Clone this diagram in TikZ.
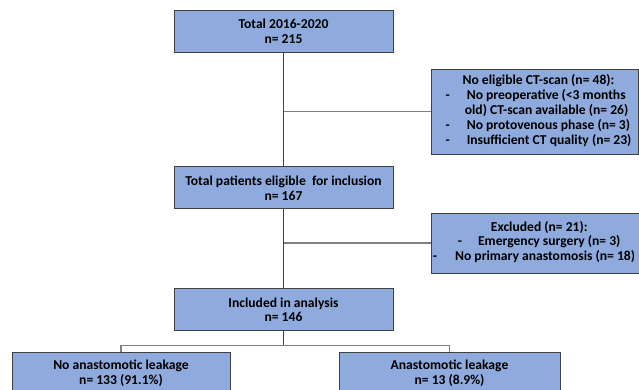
\documentclass[tikz,border=0pt]{standalone}
\usepackage{fontspec}
\setmainfont{Carlito}
\usetikzlibrary{positioning}
\definecolor{boxblue}{RGB}{143,170,220}
\definecolor{boxline}{RGB}{64,64,64}
\definecolor{linkdark}{RGB}{64,64,64}
\definecolor{linkgray}{RGB}{128,128,128}

\begin{document}
\begin{tikzpicture}[x=1pt, y=-1pt,
    flowbox/.style = {rectangle, draw=boxline, fill=boxblue, line width=0.9pt,
      font=\fontsize{13.6}{14.8}\selectfont\bfseries, align=center, inner sep=0pt},
    mainbox/.style = {flowbox, minimum width=219pt, minimum height=42pt},
    mainline/.style = {draw=linkdark, line width=1.1pt},
    sideline/.style = {draw=linkgray, line width=1.3pt}]
     \clip (0,0) rectangle (639,390);

     \node[mainbox] (total) at (283.5,31) {Total 2016-2020\\n= 215};
     \node[mainbox] (eligible) [below=114pt of total] {Total patients eligible \ for inclusion\\n= 167};
     \node[mainbox] (included) [below=79pt of eligible] {Included in analysis\\n= 146};

     \node[flowbox, minimum width=207pt, minimum height=85pt] (noct) at (534.5,111.5)
       {\hspace{8pt}\begin{tabular}{@{}c@{\hspace{17pt}}l@{}}
        \multicolumn{2}{c}{No eligible CT-scan (n= 48):}\\
        - & No preoperative (<3 months\\
          & \hspace{-2pt}old) CT-scan available (n= 26)\\
        - & No protovenous phase (n= 3)\\
        - & Insufficient CT quality (n= 23)
        \end{tabular}};
     \node[flowbox, minimum width=214pt, minimum height=60pt] (excluded) at (538,243)
       {\begin{tabular}{@{}l@{}}
        \hspace*{58pt}Excluded (n= 21):\\
        \hspace*{25pt}-\hspace{16pt}Emergency surgery (n= 3)\\
        -\hspace{18pt}No primary anastomosis (n= 18)
        \end{tabular}\hspace{8pt}};

     \node[flowbox, minimum width=218pt, minimum height=42pt] (noleak) at (121,373)
       {No anastomotic leakage\\n= 133 (91.1\%)};
     \node[flowbox, minimum width=221pt, minimum height=42pt] (leak) at (449.5,373)
       {Anastomotic leakage\\n= 13 (8.9\%)};
     \coordinate[below=14pt of included] (split);

     \draw[mainline] (total)--(eligible);
     \draw[mainline] (eligible)--(included);
     \draw[sideline] (noct.west)--(noct.west -| total.south);
     \draw[sideline] (excluded.west)--(excluded.west -| eligible.south);
     \draw[mainline] (included)--(split);
     \draw[sideline] (noleak.north) |- (split) -| (leak.north);
\end{tikzpicture}
\end{document}
